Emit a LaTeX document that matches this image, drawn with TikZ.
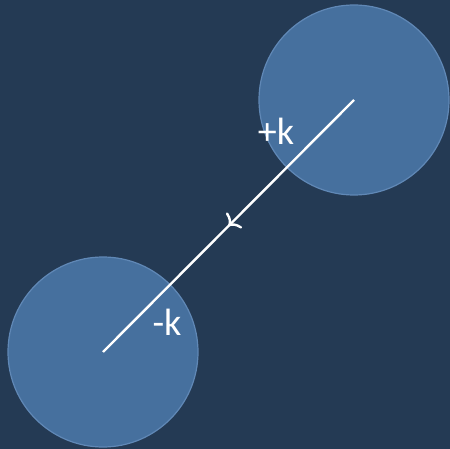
\documentclass[tikz,border=0pt]{standalone}
\usepackage{fontspec}
\setmainfont{Carlito}
\usetikzlibrary{decorations.markings,arrows.meta}
\definecolor{bgc}{HTML}{243A54}
\definecolor{ballfill}{HTML}{46709E}
\definecolor{balledge}{HTML}{6088B6}
\tikzset{
  ball/.style={circle, fill=ballfill, draw=balledge, line width=1.2pt, minimum size=190pt, inner sep=0pt},
  lbl/.style={text=white, font=\fontsize{38}{38}\selectfont, anchor=base, inner sep=0pt},
  link/.style={white, line width=2.4pt, postaction={decorate}, decoration={markings, mark=at position 0.5 with {\arrow[white, line width=2.4pt]{Computer Modern Rightarrow[length=9pt, width=22pt]}}}}
}
\begin{document}
\begin{tikzpicture}[x=1pt,y=-1pt]
\fill[bgc] (0,0) rectangle (450,449);
\useasboundingbox (0,0) rectangle (450,449);
\node[ball] (p) at (354,100) {};
\node[ball] (m) at (103,352) {};
\draw[link] (p.center) -- (m.center);
\node[lbl] (pk) at (276,145) {+k};
\node[lbl] (mk) at (167,335) {-k};
\end{tikzpicture}
\end{document}
